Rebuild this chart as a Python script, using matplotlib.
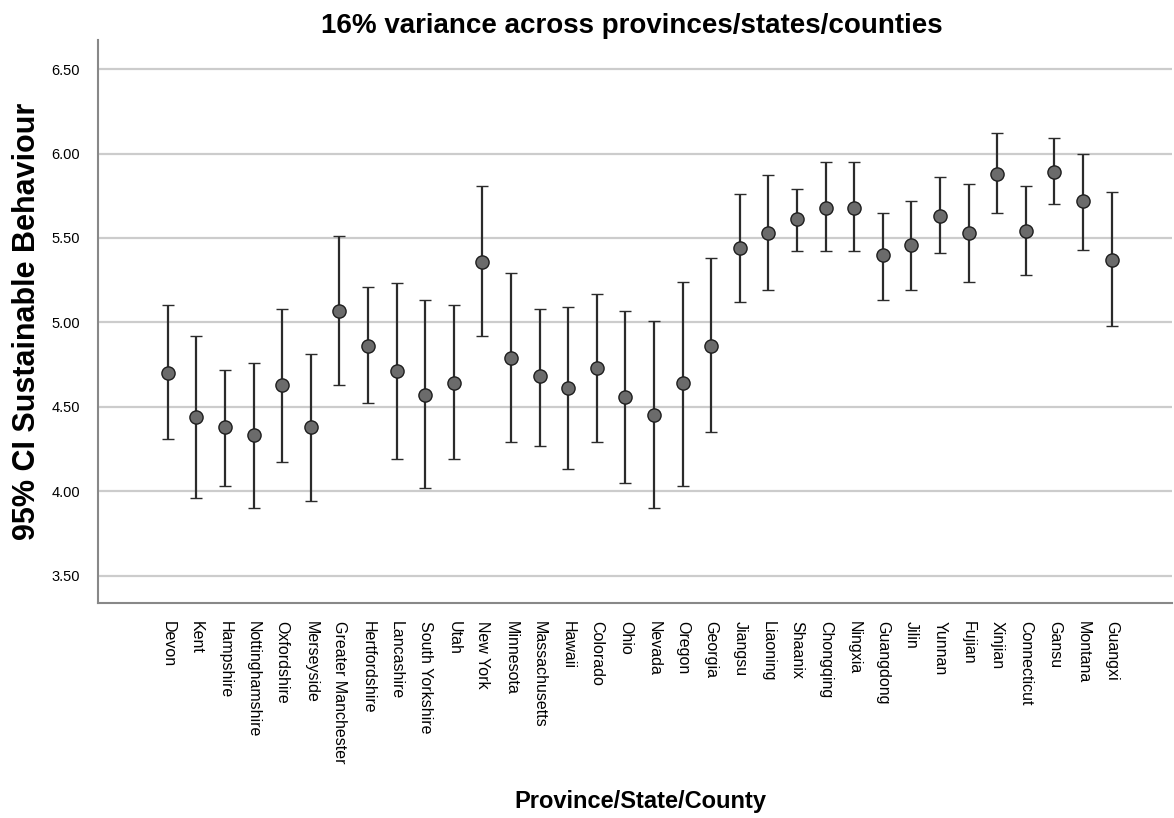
import matplotlib
matplotlib.use("Agg")
import matplotlib.pyplot as plt
import numpy as np

plt.rcParams['font.family'] = ['Liberation Sans', 'DejaVu Sans']

# regions in the order they appear on the x axis
regions = ["Devon", "Kent", "Hampshire", "Nottinghamshire", "Oxfordshire",
           "Merseyside", "Greater Manchester", "Hertfordshire", "Lancashire",
           "South Yorkshire", "Utah", "New York", "Minnesota", "Massachusetts",
           "Hawaii", "Colorado", "Ohio", "Nevada", "Oregon", "Georgia",
           "Jiangsu", "Liaoning", "Shaanix", "Chongqing", "Ningxia",
           "Guangdong", "Jilin", "Yunnan", "Fujian", "Xinjian", "Connecticut",
           "Gansu", "Montana", "Guangxi"]

means = [4.70, 4.44, 4.38, 4.33, 4.63, 4.38, 5.07, 4.86, 4.71, 4.57,
         4.64, 5.36, 4.79, 4.68, 4.61, 4.73, 4.56, 4.45, 4.64, 4.86,
         5.44, 5.53, 5.61, 5.68, 5.68, 5.40, 5.46, 5.63, 5.53, 5.88,
         5.54, 5.89, 5.72, 5.37]

ci_low = [4.31, 3.96, 4.03, 3.90, 4.17, 3.94, 4.63, 4.52, 4.19, 4.02,
          4.19, 4.92, 4.29, 4.27, 4.13, 4.29, 4.05, 3.90, 4.03, 4.35,
          5.12, 5.19, 5.42, 5.42, 5.42, 5.13, 5.19, 5.41, 5.24, 5.65,
          5.28, 5.70, 5.43, 4.98]

ci_high = [5.10, 4.92, 4.72, 4.76, 5.08, 4.81, 5.51, 5.21, 5.23, 5.13,
           5.10, 5.81, 5.29, 5.08, 5.09, 5.17, 5.07, 5.01, 5.24, 5.38,
           5.76, 5.87, 5.79, 5.95, 5.95, 5.65, 5.72, 5.86, 5.82, 6.12,
           5.81, 6.09, 6.00, 5.77]

y_ticks = [3.5, 4.0, 4.5, 5.0, 5.5, 6.0, 6.5]

means = np.array(means)
yerr = np.array([means - np.array(ci_low), np.array(ci_high) - means])
x = np.arange(len(regions))

fig = plt.figure(figsize=(11.74, 8.18), dpi=100)
ax = fig.add_axes([0.0835, 0.263, 0.9145, 0.688])

ax.errorbar(x, means, yerr=yerr, fmt='o', color='#2b2b2b', ecolor='#2b2b2b',
            elinewidth=1.6, capsize=4, capthick=1.6, markersize=9.5,
            markerfacecolor='#6b6b6b', markeredgecolor='#1e1e1e',
            markeredgewidth=1.0, zorder=3)

ax.set_xlim(-2.44, 35.1)
ax.set_ylim(3.338, 6.672)
ax.set_yticks(y_ticks)
ax.set_yticklabels([f"{v:.2f}" for v in y_ticks], fontsize=10.5)
ax.set_xticks(x)
ax.set_xticklabels(regions, rotation=270, fontsize=11.5, va='top', ha='center')
ax.tick_params(axis='both', length=0)
ax.tick_params(axis='y', pad=13)
ax.tick_params(axis='x', pad=13)

ax.grid(axis='y', color='#cccccc', linewidth=1.6, zorder=0)
ax.set_axisbelow(True)
for side in ['top', 'right']:
    ax.spines[side].set_visible(False)
for side in ['left', 'bottom']:
    ax.spines[side].set_color('#888888')
    ax.spines[side].set_linewidth(1.5)

ax.set_title("16% variance across provinces/states/counties",
             fontsize=20, fontweight='bold', pad=5, x=0.497)
ax.set_ylabel("95% CI Sustainable Behaviour", fontsize=22, fontweight='bold')
ax.yaxis.set_label_coords(-0.052, 0.5)
ax.set_xlabel("Province/State/County", fontsize=17, fontweight='bold')
ax.xaxis.set_label_coords(0.505, -0.333)

fig.savefig("out.png", dpi=100)
